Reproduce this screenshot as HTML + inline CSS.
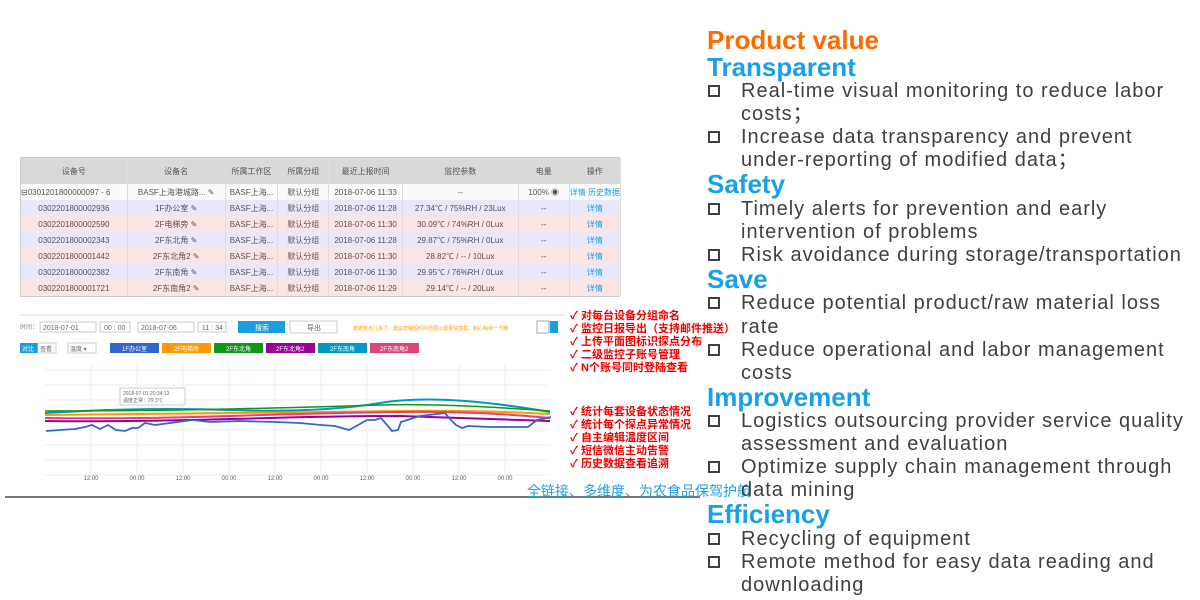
<!DOCTYPE html>
<html><head><meta charset="utf-8"><style>
*{margin:0;padding:0;box-sizing:border-box}
body{width:1200px;height:600px;background:#fff;position:relative;overflow:hidden;font-family:"Liberation Sans","Noto Sans CJK SC",sans-serif}
.a{position:absolute;white-space:nowrap}
.h{font-size:26px;font-weight:bold;color:#1aa0e8;line-height:26px}
.t{font-size:20px;color:#404040;line-height:22px;letter-spacing:1px}
.cb{position:absolute;width:12px;height:12px;border:2px solid #404040}
table{border-collapse:collapse;font-size:8px;color:#555}
td{height:16px;text-align:center;border-right:1px solid #ddd;white-space:nowrap;overflow:hidden}
.r{font-size:11px;font-weight:bold;color:#e00;line-height:13px}
</style></head><body>
<div class="a" style="left:20px;top:157px;width:600px;height:140px;border:1px solid #ccc;background:#fff">
<table style="width:600px">
<colgroup><col style="width:107px"><col style="width:99px"><col style="width:53px"><col style="width:52px"><col style="width:74px"><col style="width:117px"><col style="width:52px"><col></colgroup>
<tr style="background:#d9d9d9;height:26px"><td style="height:26px">设备号</td><td>设备名</td><td>所属工作区</td><td>所属分组</td><td>最近上报时间</td><td>监控参数</td><td>电量</td><td>操作</td></tr>
<tr style="background:#fafafa"><td style="text-align:left">⊟0301201800000097 - 6</td><td>BASF上海港城路... ✎</td><td>BASF上海...</td><td>默认分组</td><td>2018-07-06 11:33</td><td>--</td><td>100% ◉</td><td style="color:#1a9ee0">详情 历史数据</td></tr>
<tr style="background:#e8e8fa"><td>0302201800002936</td><td>1F办公室 ✎</td><td>BASF上海...</td><td>默认分组</td><td>2018-07-06 11:28</td><td>27.34℃ / 75%RH / 23Lux</td><td>--</td><td style="color:#1a9ee0">详情</td></tr>
<tr style="background:#fbe4e4"><td>0302201800002590</td><td>2F电梯旁 ✎</td><td>BASF上海...</td><td>默认分组</td><td>2018-07-06 11:30</td><td>30.09℃ / 74%RH / 0Lux</td><td>--</td><td style="color:#1a9ee0">详情</td></tr>
<tr style="background:#e8e8fa"><td>0302201800002343</td><td>2F东北角 ✎</td><td>BASF上海...</td><td>默认分组</td><td>2018-07-06 11:28</td><td>29.87℃ / 75%RH / 0Lux</td><td>--</td><td style="color:#1a9ee0">详情</td></tr>
<tr style="background:#fbe4e4"><td>0302201800001442</td><td>2F东北角2 ✎</td><td>BASF上海...</td><td>默认分组</td><td>2018-07-06 11:30</td><td>28.82℃ / -- / 10Lux</td><td>--</td><td style="color:#1a9ee0">详情</td></tr>
<tr style="background:#e8e8fa"><td>0302201800002382</td><td>2F东南角 ✎</td><td>BASF上海...</td><td>默认分组</td><td>2018-07-06 11:30</td><td>29.95℃ / 76%RH / 0Lux</td><td>--</td><td style="color:#1a9ee0">详情</td></tr>
<tr style="background:#fbe4e4"><td>0302201800001721</td><td>2F东南角2 ✎</td><td>BASF上海...</td><td>默认分组</td><td>2018-07-06 11:29</td><td>29.14℃ / -- / 20Lux</td><td>--</td><td style="color:#1a9ee0">详情</td></tr>
</table></div>
<div class="a" style="left:20px;top:314px;width:545px;height:2px;background:#eee"></div>
<svg class="a" style="left:0;top:315px" width="700" height="190" font-family="Liberation Sans,Noto Sans CJK SC,sans-serif">
<text x="20" y="14" font-size="6" fill="#888">时间：</text>
<rect x="40" y="7" width="56" height="10" fill="#fff" stroke="#ccc"/><text x="43" y="15" font-size="7" fill="#666">2018-07-01</text>
<rect x="100" y="7" width="30" height="10" fill="#fff" stroke="#ccc"/><text x="104" y="15" font-size="7" fill="#666">00 : 00</text>
<rect x="138" y="7" width="56" height="10" fill="#fff" stroke="#ccc"/><text x="141" y="15" font-size="7" fill="#666">2018-07-06</text>
<rect x="198" y="7" width="28" height="10" fill="#fff" stroke="#ccc"/><text x="202" y="15" font-size="7" fill="#666">11 : 34</text>
<rect x="238" y="6" width="47" height="12" fill="#1a9ee0"/><text x="255" y="15" font-size="7" fill="#fff">搜索</text>
<rect x="290" y="6" width="47" height="12" fill="#fff" stroke="#ccc"/><text x="307" y="15" font-size="7" fill="#666">导出</text>
<text x="353" y="15" font-size="5" fill="#f90">数据有点儿多了，建议您缩短时间范围以便更快加载，耐心稍待一下哦</text>
<rect x="537" y="6" width="12" height="12" fill="#fff" stroke="#aaa"/><rect x="550" y="6" width="8" height="12" fill="#1a9ee0"/>
<rect x="20" y="28" width="18" height="10" fill="#1a9ee0"/><text x="22" y="36" font-size="6" fill="#fff">对比</text>
<rect x="38" y="28" width="18" height="10" fill="#fff" stroke="#ccc"/><text x="40" y="36" font-size="6" fill="#666">查看</text>
<rect x="68" y="28" width="28" height="10" fill="#fff" stroke="#ccc"/><text x="70" y="36" font-size="6" fill="#666">温度 ▾</text>
<rect x="110" y="28" width="49" height="10" fill="#3366cc"/><text x="122" y="36" font-size="6" fill="#fff">1F办公室</text>
<rect x="162" y="28" width="49" height="10" fill="#ff9900"/><text x="174" y="36" font-size="6" fill="#fff">2F电梯旁</text>
<rect x="214" y="28" width="49" height="10" fill="#109618"/><text x="226" y="36" font-size="6" fill="#fff">2F东北角</text>
<rect x="266" y="28" width="49" height="10" fill="#990099"/><text x="276" y="36" font-size="6" fill="#fff">2F东北角2</text>
<rect x="318" y="28" width="49" height="10" fill="#0099c6"/><text x="330" y="36" font-size="6" fill="#fff">2F东南角</text>
<rect x="370" y="28" width="49" height="10" fill="#dd4477"/><text x="380" y="36" font-size="6" fill="#fff">2F东南角2</text>
<g stroke="#eee" stroke-width="1">
<line x1="45" y1="55" x2="550" y2="55"/><line x1="45" y1="70" x2="550" y2="70"/><line x1="45" y1="85" x2="550" y2="85"/><line x1="45" y1="100" x2="550" y2="100"/><line x1="45" y1="115" x2="550" y2="115"/><line x1="45" y1="130" x2="550" y2="130"/><line x1="45" y1="145" x2="550" y2="145"/><line x1="45" y1="160" x2="550" y2="160"/>
<line x1="91" y1="50" x2="91" y2="160"/><line x1="137" y1="50" x2="137" y2="160"/><line x1="183" y1="50" x2="183" y2="160"/><line x1="229" y1="50" x2="229" y2="160"/><line x1="275" y1="50" x2="275" y2="160"/><line x1="321" y1="50" x2="321" y2="160"/><line x1="367" y1="50" x2="367" y2="160"/><line x1="413" y1="50" x2="413" y2="160"/><line x1="459" y1="50" x2="459" y2="160"/><line x1="505" y1="50" x2="505" y2="160"/>
</g>
<g font-size="6" fill="#666" text-anchor="middle"><text x="91" y="165">12:00</text><text x="137" y="165">00:00</text><text x="183" y="165">12:00</text><text x="229" y="165">00:00</text><text x="275" y="165">12:00</text><text x="321" y="165">00:00</text><text x="367" y="165">12:00</text><text x="413" y="165">00:00</text><text x="459" y="165">12:00</text><text x="505" y="165">00:00</text></g>
<g fill="none" stroke-width="2">
<path d="M45 98 Q140 92 230 95 T380 88 T550 97" stroke="#0099c6"/>
<path d="M45 96 Q140 96 230 94 T380 90 T550 96" stroke="#109618" stroke-width="1.5"/>
<path d="M45 100 Q140 99 230 98 T400 96 T550 99" stroke="#ff9900"/>
<path d="M45 103 Q140 104 230 101 T400 97 T550 103" stroke="#dd4477"/>
<path d="M45 106 Q120 107 230 104 T400 101 L460 103 T550 106" stroke="#990099"/>
<path d="M46 116 L60 115 L75 114 L85 112 L92 110 L100 114 L108 110 L116 115 L125 116 L132 113 L138 113 L145 108 L155 110 L170 108 L193 105 L210 107 L240 106 L275 107 L300 108 L321 110 L335 111 L349 115 L360 109 L367 105 L375 105 L381 103 L387 110 L392 116 L398 115 L401 107 L420 101 L445 98 L450 104 L456 110 L462 113 L468 111 L490 112 L528 112 L537 105 L551 102" stroke="#3366cc" stroke-width="1.8"/>
</g>
<rect x="120" y="73" width="65" height="17" fill="#fff" stroke="#ccc"/>
<text x="123" y="80" font-size="5" fill="#666">2018-07-01 20:34:13</text><text x="123" y="87" font-size="5" fill="#666">温度正常：29.3℃</text>
<line x1="5" y1="182" x2="700" y2="182" stroke="#777" stroke-width="2"/>
</svg>
<div class="a" style="left:527px;top:481px;font-size:14px;color:#1ea0e0">全链接、多维度、为农食品保驾护航</div>
<div class="a r" style="left:570px;top:310px">✓ 对每台设备分组命名<br>✓ 监控日报导出（支持邮件推送）<br>✓ 上传平面图标识探点分布<br>✓ 二级监控子账号管理<br>✓ N个账号同时登陆查看</div>
<div class="a r" style="left:570px;top:406px">✓ 统计每套设备状态情况<br>✓ 统计每个探点异常情况<br>✓ 自主编辑温度区间<br>✓ 短信微信主动告警<br>✓ 历史数据查看追溯</div>
<div class="a h" style="left:707px;top:27px;color:#ff6a00">Product value</div>
<div class="a h" style="left:707px;top:54px">Transparent</div>
<div class="cb" style="left:708px;top:85px"></div><div class="a t" style="left:741px;top:80px">Real-time visual monitoring to reduce labor</div>
<div class="a t" style="left:741px;top:103px">costs；</div>
<div class="cb" style="left:708px;top:131px"></div><div class="a t" style="left:741px;top:126px">Increase data transparency and prevent</div>
<div class="a t" style="left:741px;top:149px">under-reporting of modified data；</div>
<div class="a h" style="left:707px;top:171px">Safety</div>
<div class="cb" style="left:708px;top:203px"></div><div class="a t" style="left:741px;top:198px">Timely alerts for prevention and early</div>
<div class="a t" style="left:741px;top:221px">intervention of problems</div>
<div class="cb" style="left:708px;top:249px"></div><div class="a t" style="left:741px;top:244px">Risk avoidance during storage/transportation</div>
<div class="a h" style="left:707px;top:266px">Save</div>
<div class="cb" style="left:708px;top:297px"></div><div class="a t" style="left:741px;top:292px">Reduce potential product/raw material loss</div>
<div class="a t" style="left:741px;top:316px">rate</div>
<div class="cb" style="left:708px;top:344px"></div><div class="a t" style="left:741px;top:339px">Reduce operational and labor management</div>
<div class="a t" style="left:741px;top:362px">costs</div>
<div class="a h" style="left:707px;top:384px">Improvement</div>
<div class="cb" style="left:708px;top:415px"></div><div class="a t" style="left:741px;top:410px">Logistics outsourcing provider service quality</div>
<div class="a t" style="left:741px;top:433px">assessment and evaluation</div>
<div class="cb" style="left:708px;top:461px"></div><div class="a t" style="left:741px;top:456px">Optimize supply chain management through</div>
<div class="a t" style="left:741px;top:479px">data mining</div>
<div class="a h" style="left:707px;top:501px">Efficiency</div>
<div class="cb" style="left:708px;top:533px"></div><div class="a t" style="left:741px;top:528px">Recycling of equipment</div>
<div class="cb" style="left:708px;top:556px"></div><div class="a t" style="left:741px;top:551px">Remote method for easy data reading and</div>
<div class="a t" style="left:741px;top:574px">downloading</div>
</body></html>
